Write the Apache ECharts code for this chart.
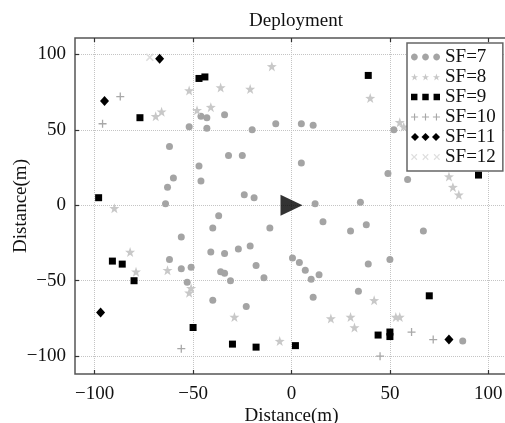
<!DOCTYPE html>
<html><head><meta charset="utf-8">
<script src="https://cdn.jsdelivr.net/npm/echarts@6/dist/echarts.min.js"></script>
<style>html,body{margin:0;padding:0;background:#fff}#c{width:505px;height:423px}</style>
</head><body><div id="c"></div>
<script>
// ---- data ----
const xTicks = [-100, -50, 0, 50, 100];
const yTicks = [-100, -50, 0, 50, 100];
const seriesNames = ['SF=7', 'SF=8', 'SF=9', 'SF=10', 'SF=11', 'SF=12'];
const sf7 = [[-46,59],[-43,58],[-34,60],[-8,54],[-52,52],[-43,51],[-20,50],[-62,39],[-32,33],[-25,33],[-47,26],[-60,18],[-63,12],[-46,16],[-24,7],[-19,5],[-64,1],
  [5,54],[11,53],[52,50],[5,28],[49,21],[59,17],[12,1],[35,2],
  [16,-11],[-11,-15],[30,-17],[-27,-29],[-21,-27],
  [-37,-7],[-40,-15],[-56,-21],[-41,-31],[-34,-32],[-62,-36],[-56,-42],[-51,-41],[-36,-44],[-34,-45],[-18,-40],[-31,-50],[-14,-48],[-53,-51],[-40,-63],[-23,-67],
  [38,-13],[67,-17],[0.5,-35],[4,-38],[7,-43],[10,-49],[14,-46],[39,-39],[50,-36],[34,-57],[11,-61],[87,-90]];
const sf8 = [[-10,92],[-69,59],[-66,62],[-52,76],[-36,78],[-21,77],[-48,63],[-41,65],[-90,-2],[40,71],[55,55],[57,52],[80,19],[82,12],[85,7],
  [-51,-55],[-52,-58],[-29,-74],[-82,-31],[-79,-44],[-63,-43],[-6,-90],[42,-63],[20,-75],[30,-74],[32,-81],[53,-74],[55,-74]];
const sf9 = [[-47,84],[-44,85],[-77,58],[-98,5],[39,86],[95,20],[-91,-37],[-86,-39],[-80,-50],[-50,-81],[-30,-92],[-18,-94],[2,-93],[44,-86],[50,-84],[50,-87],[70,-60]];
const sf10 = [[-87,72],[-96,54],[-56,-95],[61,-84],[72,-89],[45,-100]];
const sf11 = [[-67,97],[-95,69],[-97,-71],[80,-89]];
const sf12 = [[-72,98]];
const gateway = [[0,0]];

// ---- shapes ----
function poly(pts, cx, cy, s) {
  return 'M' + pts.map(p => (cx + p[0]*s).toFixed(2) + ',' + (cy + p[1]*s).toFixed(2)).join('L') + 'Z';
}
const circlePts = Array.from({length: 20}, (_, i) => [Math.cos(i*Math.PI/10), Math.sin(i*Math.PI/10)]);
const starPts = [[0,-1],[0.235,-0.324],[0.951,-0.309],[0.380,0.124],[0.588,0.809],[0,0.4],[-0.588,0.809],[-0.380,0.124],[-0.951,-0.309],[-0.235,-0.324]];
const sqPts = [[-1,-1],[1,-1],[1,1],[-1,1]];
const t = 0.16;
const plusPts = [[-t,-1],[t,-1],[t,-t],[1,-t],[1,t],[t,t],[t,1],[-t,1],[-t,t],[-1,t],[-1,-t],[-t,-t]];
const r45 = p => [(p[0]-p[1])*0.7071, (p[0]+p[1])*0.7071];
const xPts = plusPts.map(r45);
const diaPts = [[0,-1],[1,0],[0,1],[-1,0]];
function one(pts) { return 'path://' + poly(pts, 0, 0, 10); }
function tri(pts, s) { return 'path://' + [4, 14.5, 25].map(cx => poly(pts, cx, 4, s)).join(''); }

const serif = 'Liberation Serif, Times New Roman, serif';
const fmt = v => v < 0 ? '\u2212' + Math.abs(v) : String(v);

const chart = echarts.init(document.getElementById('c'));
const colors = ['#a4a4a4', '#c8c8c8', '#000000', '#a8a8a8', '#000000', '#dedede'];
chart.setOption({
  animation: false,
  backgroundColor: '#fff',
  title: { text: 'Deployment', left: 291, textAlign: 'center', top: 7,
    textStyle: { fontFamily: serif, fontSize: 19, fontWeight: 'normal', color: '#111' } },
  grid: { left: 75, right: -3, top: 38, bottom: 49, show: true, borderColor: '#555', borderWidth: 1.5,
    containLabel: false, outerBoundsMode: 'none' },
  legend: {
    orient: 'vertical', left: 407, top: 43, selectedMode: false,
    backgroundColor: '#fff', borderColor: '#666', borderWidth: 1.5,
    padding: [4, 7, 4, 4], itemGap: 0, itemWidth: 29, itemHeight: 8,
    textStyle: { fontFamily: serif, fontSize: 19, color: '#111', lineHeight: 20 },
    data: [
      { name: 'SF=7', icon: tri(circlePts, 3.2) },
      { name: 'SF=8', icon: tri(starPts, 3.6) },
      { name: 'SF=9', icon: tri(sqPts, 3) },
      { name: 'SF=10', icon: tri(plusPts, 3.4) },
      { name: 'SF=11', icon: tri(diaPts, 4) },
      { name: 'SF=12', icon: tri(xPts, 3.6) }
    ]
  },
  xAxis: [{
    type: 'value', min: -110, max: 110, position: 'bottom',
    axisLine: { show: false, onZero: false },
    axisTick: { show: true, inside: true, length: 4, customValues: xTicks, lineStyle: { color: '#333', width: 1.2 } },
    axisLabel: { customValues: xTicks, formatter: fmt, fontFamily: serif, fontSize: 19, color: '#111', margin: 11 },
    splitLine: { show: true, lineStyle: { type: 'dotted', color: '#c4c4c4', width: 1 } },
    name: 'Distance(m)', nameLocation: 'middle', nameGap: 33, nameMoveOverlap: false,
    nameTextStyle: { fontFamily: serif, fontSize: 19, color: '#111' }
  }, {
    type: 'value', min: -110, max: 110, position: 'top',
    axisLine: { show: false, onZero: false },
    axisTick: { show: true, inside: true, length: 4, customValues: xTicks, lineStyle: { color: '#333', width: 1.2 } },
    axisLabel: { show: false }, splitLine: { show: false }
  }],
  yAxis: [{
    type: 'value', min: -111.8, max: 110.8,
    axisLine: { show: false, onZero: false },
    axisTick: { show: true, inside: true, length: 4, customValues: yTicks, lineStyle: { color: '#333', width: 1.2 } },
    axisLabel: { customValues: yTicks, formatter: fmt, fontFamily: serif, fontSize: 19, color: '#111', margin: 9 },
    splitLine: { show: true, lineStyle: { type: 'dotted', color: '#c4c4c4', width: 1 } },
    name: 'Distance(m)', nameLocation: 'middle', nameGap: 44, nameMoveOverlap: false,
    nameTextStyle: { fontFamily: serif, fontSize: 19, color: '#111' }
  }],
  series: [
    { name: 'SF=7', type: 'scatter', data: sf7, symbol: 'circle', symbolSize: 7, itemStyle: { color: colors[0], opacity: 1 } },
    { name: 'SF=8', type: 'scatter', data: sf8, symbol: one(starPts), symbolSize: 10, itemStyle: { color: colors[1], opacity: 1 } },
    { name: 'SF=9', type: 'scatter', data: sf9, symbol: 'rect', symbolSize: 7, itemStyle: { color: colors[2], opacity: 1 } },
    { name: 'SF=10', type: 'scatter', data: sf10, symbol: one(plusPts), symbolSize: 8, itemStyle: { color: colors[3], opacity: 1 } },
    { name: 'SF=11', type: 'scatter', data: sf11, symbol: 'diamond', symbolSize: [9, 10], itemStyle: { color: colors[4], opacity: 1 } },
    { name: 'SF=12', type: 'scatter', data: sf12, symbol: one(xPts), symbolSize: 8, itemStyle: { color: colors[5], opacity: 1 } },
    { name: 'Gateway', type: 'scatter', data: gateway, symbol: 'triangle', symbolRotate: -90, symbolSize: [21, 22], itemStyle: { color: '#000' }, z: 5 }
  ]
});
</script>
</body></html>
